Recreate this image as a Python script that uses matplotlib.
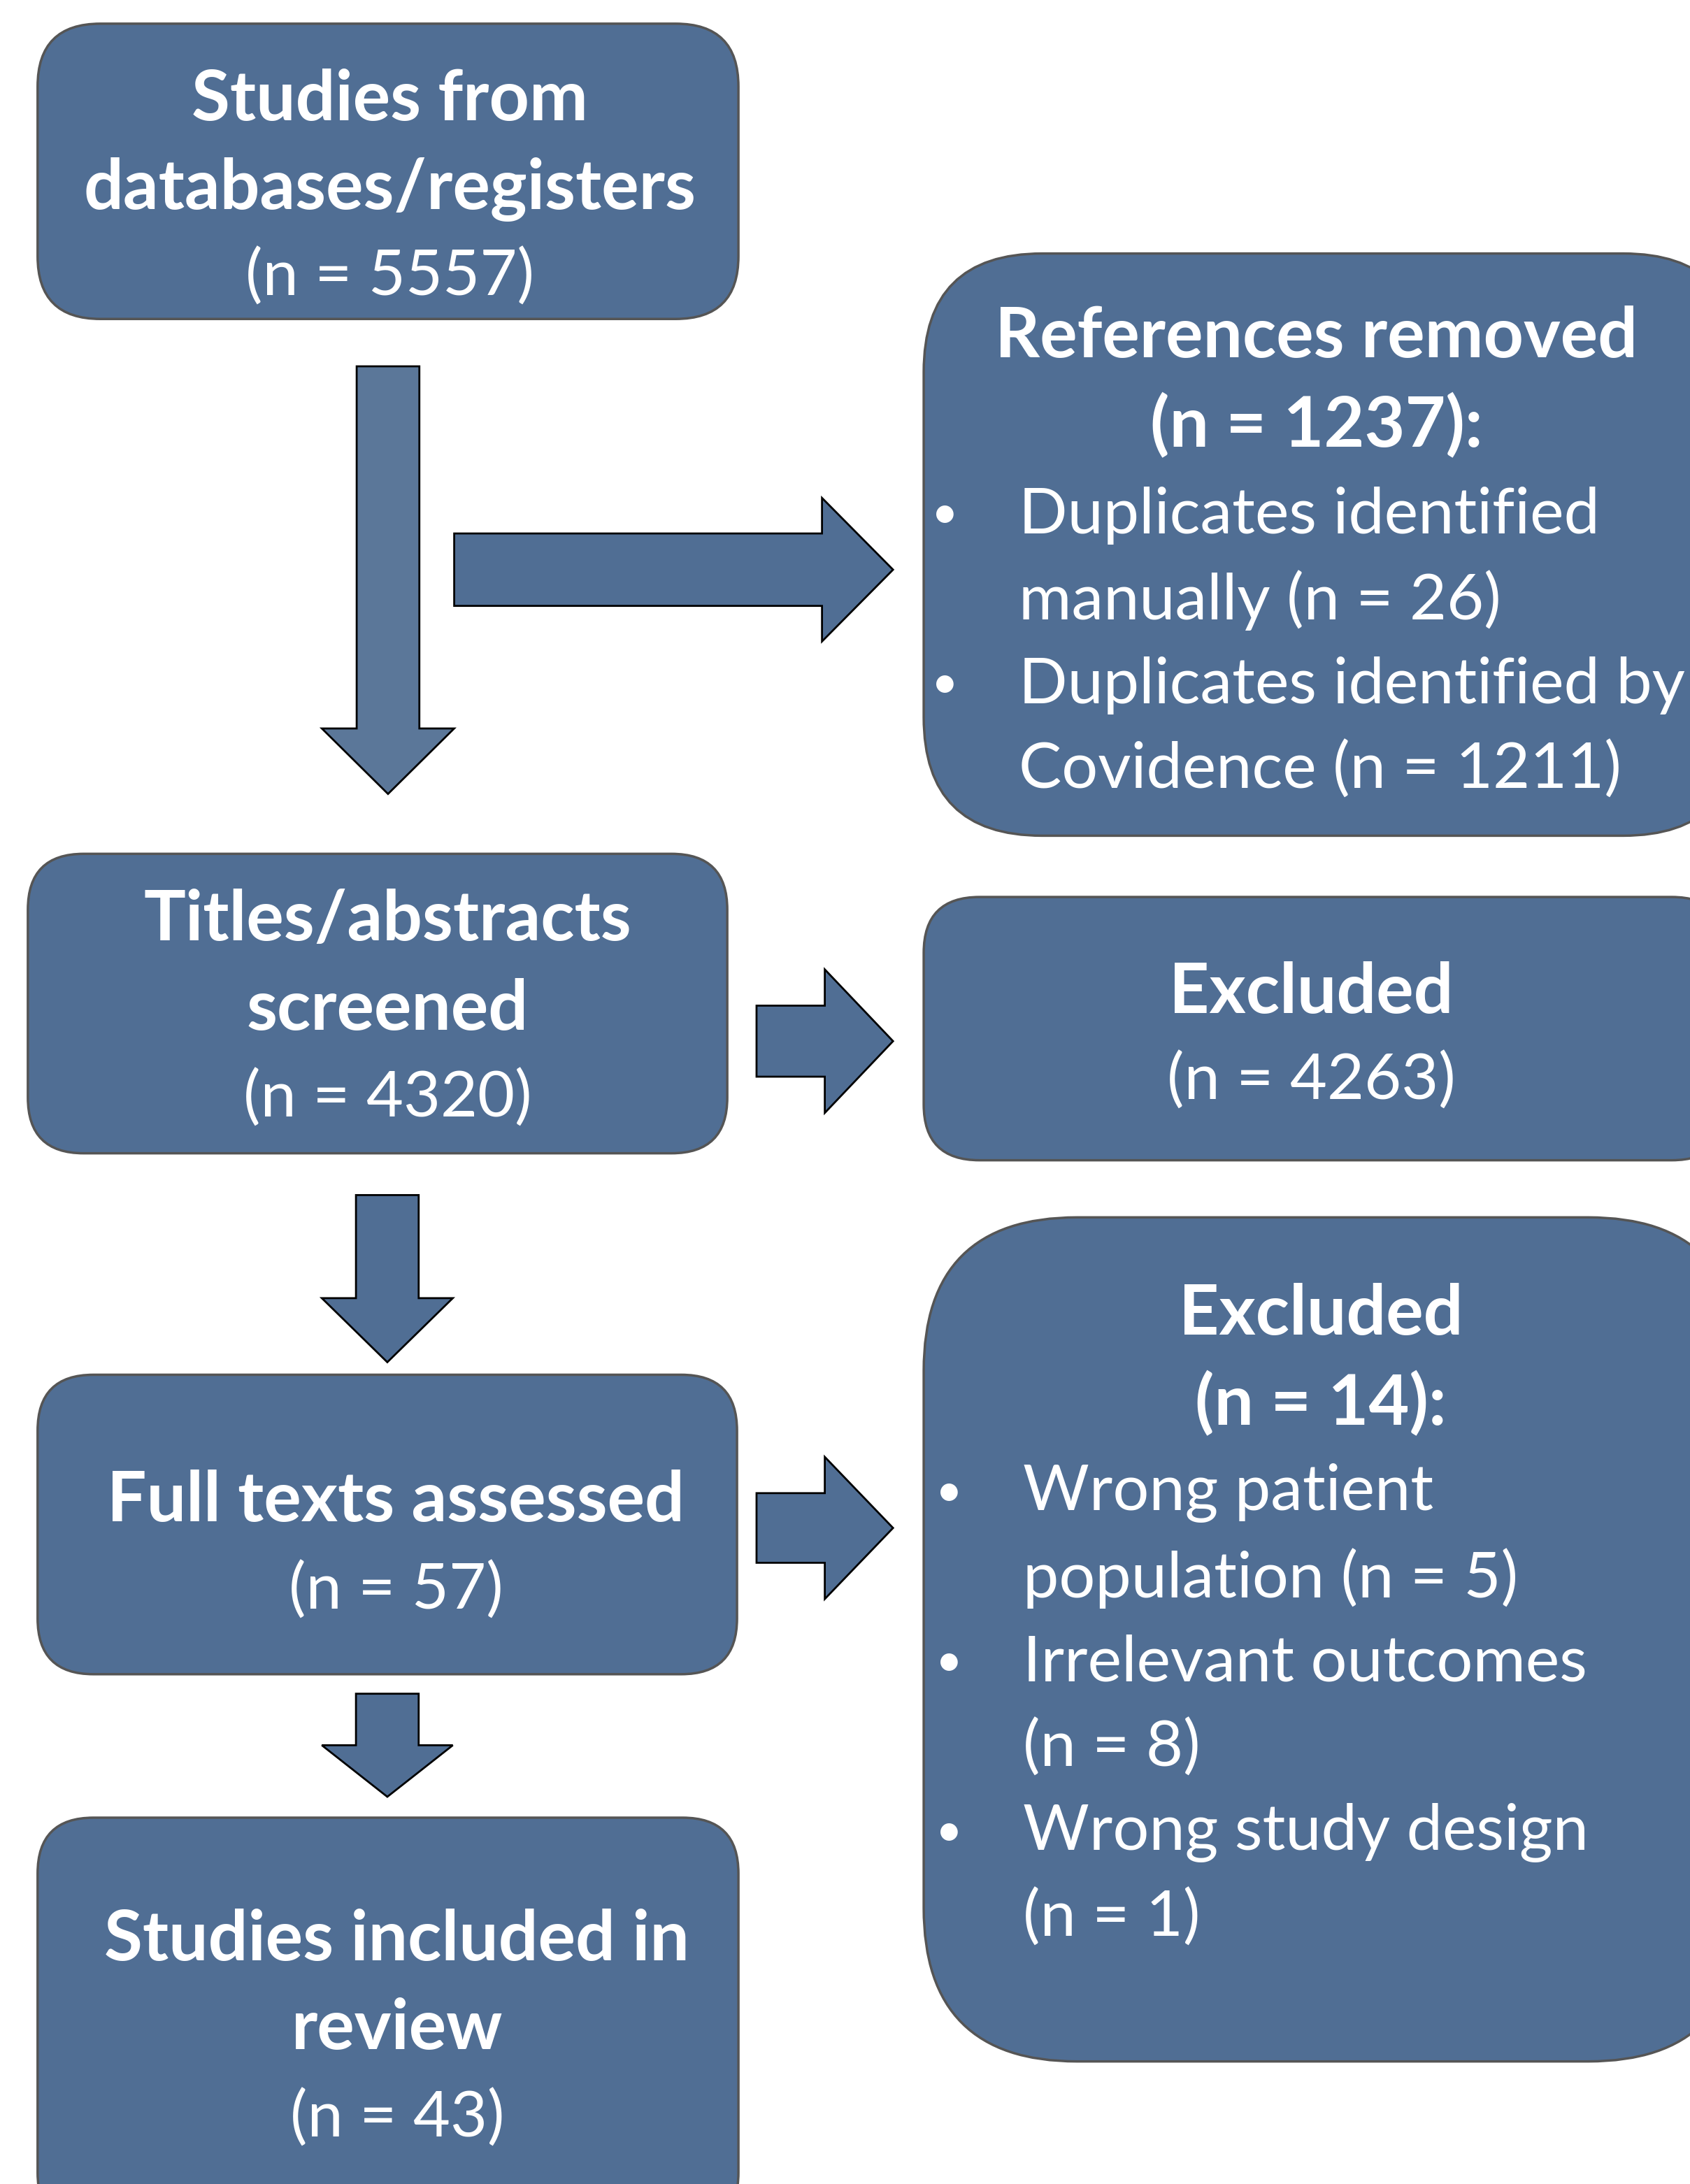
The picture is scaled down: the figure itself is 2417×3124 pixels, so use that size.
import matplotlib
matplotlib.use('Agg')
import matplotlib.pyplot as plt
from matplotlib.patches import FancyBboxPatch, Polygon

# counts shown in the flow diagram
n_records   = 5557
n_removed   = 1237
n_dup_man   = 26
n_dup_cov   = 1211
n_screened  = 4320
n_excl_scr  = 4263
n_fulltext  = 57
n_excl_ft   = 14
excl_reasons = ["Wrong patient\npopulation", "Irrelevant outcomes\n", "Wrong study design\n"]
excl_counts  = [5, 8, 1]
n_included  = 43

FILL   = '#506e94'
FILL2  = '#5b7799'
EDGE   = '#555555'
FONT   = 'Lato'
FS     = 66
FS_B   = 72
DY     = 3

W, H = 1213, 1568   # working units (half of the output pixels)
fig = plt.figure(figsize=(24.17, 31.24), dpi=100)
ax = fig.add_axes([0, 0, 1, 1])
ax.set_xlim(0, W); ax.set_ylim(H, 0); ax.axis('off')

def box(x0, y0, x1, y1, r):
    ax.add_patch(FancyBboxPatch((x0, y0), x1 - x0, y1 - y0,
                                boxstyle=f"round,pad=0,rounding_size={r}",
                                fc=FILL, ec=EDGE, lw=2.5, zorder=2))

def down_arrow(xc, y0, y1, hw, sw, hl, fc=FILL):
    pts = [(xc - sw, y0), (xc + sw, y0), (xc + sw, y1 - hl), (xc + hw, y1 - hl),
           (xc, y1), (xc - hw, y1 - hl), (xc - sw, y1 - hl)]
    ax.add_patch(Polygon(pts, closed=True, fc=fc, ec='black', lw=2, zorder=2))

def right_arrow(yc, x0, x1, hw, sw, hl):
    pts = [(x0, yc - sw), (x1 - hl, yc - sw), (x1 - hl, yc - hw), (x1, yc),
           (x1 - hl, yc + hw), (x1 - hl, yc + sw), (x0, yc + sw)]
    ax.add_patch(Polygon(pts, closed=True, fc=FILL, ec='black', lw=2, zorder=2))

def txt(x, y, s, bold=False, ha='center', fs=None):
    if fs is None:
        fs = FS_B if bold else FS
    ax.text(x, y + DY, s, ha=ha, va='center', color='white', fontsize=fs,
            fontweight='bold' if bold else 'normal', family=FONT, zorder=3)

def bullet(x, y):
    txt(x, y, "•", fs=48)

# boxes
box(27, 17, 530, 229, 45)
box(663, 182, 1250, 600, 85)
box(20, 613, 522, 828, 40)
box(663, 644, 1240, 833, 40)
box(27, 987, 529, 1202, 40)
box(663, 874, 1250, 1480, 110)
box(27, 1305, 530, 1600, 40)

# arrows
down_arrow(278.5, 263, 570, 47.5, 22.5, 47, fc=FILL2)
right_arrow(409, 326, 641, 51.5, 26, 51)
right_arrow(747.5, 543, 641, 51.5, 25.5, 49)
down_arrow(278, 858, 978, 47, 22.5, 46)
right_arrow(1097, 543, 641, 51, 25, 49)
down_arrow(278, 1216, 1290, 47, 22.5, 37)

# text
txt(280, 69, "Studies from", True)
txt(280, 133, "databases/registers", True)
txt(280, 196, f"(n = {n_records})")

txt(945, 239, "References removed", True)
txt(945, 303, f"(n = {n_removed}):", True)
items = [("Duplicates identified\nmanually (n = %d)" % n_dup_man),
         ("Duplicates identified by\nCovidence (n = %d)" % n_dup_cov)]
y = 367
for it in items:
    bullet(678, y)
    for line in it.split('\n'):
        txt(731, y, line, ha='left')
        y += 61

txt(278, 658, "Titles/abstracts", True)
txt(278, 722, "screened", True)
txt(278, 786, f"(n = {n_screened})")

txt(941, 710, "Excluded", True)
txt(941, 773, f"(n = {n_excl_scr})")

txt(284, 1075, "Full texts assessed", True)
txt(284, 1139, f"(n = {n_fulltext})")

txt(948, 941, "Excluded", True)
txt(948, 1005, f"(n = {n_excl_ft}):", True)
y = 1069
for reason, c in zip(excl_reasons, excl_counts):
    first, second = reason.split('\n')
    bullet(681, y)
    txt(734, y, first, ha='left')
    if second == "":
        txt(734, y + 61, f"(n = {c})", ha='left')
    else:
        txt(734, y + 61, f"{second} (n = {c})", ha='left')
    y += 122

txt(285, 1390, "Studies included in", True)
txt(285, 1454, "review", True)
txt(285, 1518, f"(n = {n_included})")

fig.savefig('out.png', dpi=100)
